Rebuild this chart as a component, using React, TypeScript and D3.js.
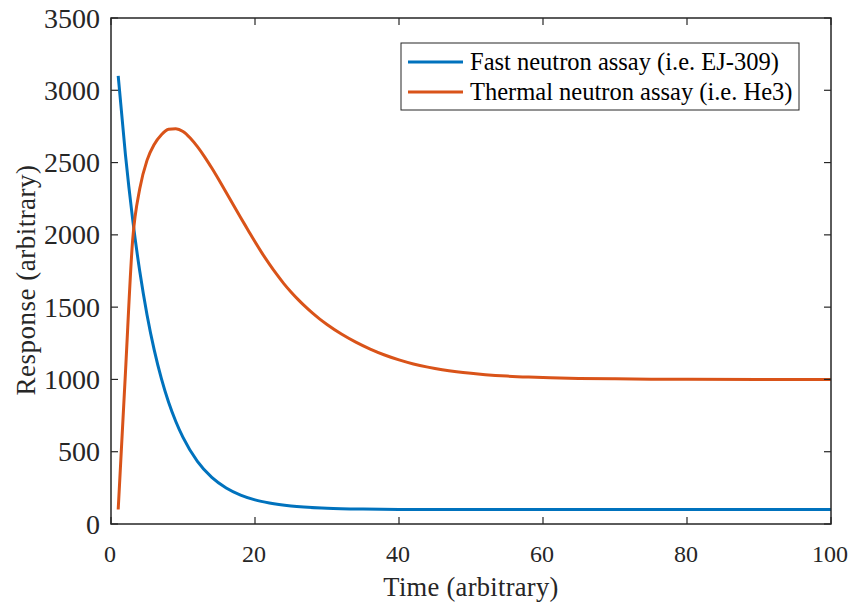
import React from "react";
import * as d3 from "d3";

const fastT = [1, 2, 3, 4, 5, 6, 7, 8, 9, 10, 12, 14, 16, 18, 20, 22, 25, 30, 35, 40, 50, 60, 80, 100];
const fastV = [3100, 2556, 2111, 1746, 1448, 1204, 1005, 842, 709, 599, 433, 322, 249, 200, 167, 145, 124, 109, 103, 101, 100, 100, 100, 100];

const thermalT = [1, 2, 3, 4, 5, 6, 7, 8, 9, 10, 11, 12, 13, 14, 15, 16, 17, 18, 19, 20, 21, 22, 23, 24, 25, 26, 27, 28, 29, 30, 32, 34, 36, 38, 40, 42, 44, 46, 48, 50, 52, 55, 58, 61, 65, 70, 75, 80, 90, 100];
const thermalV = [100, 1040, 1960, 2320, 2515, 2625, 2693, 2730, 2734, 2715, 2670, 2610, 2540, 2462, 2379, 2293, 2206, 2120, 2036, 1952, 1872, 1798, 1728, 1663, 1605, 1552, 1503, 1458, 1417, 1380, 1314, 1258, 1210, 1169, 1135, 1107, 1085, 1067, 1053, 1042, 1033, 1023, 1016, 1011, 1007, 1004, 1002, 1001, 1000, 1000];

const xTicks = [0, 20, 40, 60, 80, 100];
const yTicks = [0, 500, 1000, 1500, 2000, 2500, 3000, 3500];
const seriesNames = ["Fast neutron assay (i.e. EJ-309)", "Thermal neutron assay (i.e. He3)"];
const seriesColors = ["#0072BD", "#D95319"];

const W = 848, H = 608;
const L = 111, R = 831, T = 18, B = 524;
const FONT = "'Liberation Serif', 'Times New Roman', serif";

export default function App() {
  const x = d3.scaleLinear().domain([0, 100]).range([L, R]);
  const y = d3.scaleLinear().domain([0, 3500]).range([B, T]);
  const line = d3.line<[number, number]>().x(d => x(d[0])).y(d => y(d[1])).curve(d3.curveMonotoneX);
  const fast = fastT.map((t, i) => [t, fastV[i]] as [number, number]);
  const thermal = thermalT.map((t, i) => [t, thermalV[i]] as [number, number]);
  const tl = 7;
  const axisColor = "#262626";
  return (
    <svg width={W} height={H} style={{ position: "absolute", left: 0, top: 0, background: "#fff" }}>
      <rect x={0} y={0} width={W} height={H} fill="#fff" />
      <defs>
        <clipPath id="clip"><rect x={L} y={T} width={R - L} height={B - T} /></clipPath>
      </defs>
      <g clipPath="url(#clip)">
        <path d={line(fast) || ""} fill="none" stroke={seriesColors[0]} strokeWidth={3} />
        <path d={line(thermal) || ""} fill="none" stroke={seriesColors[1]} strokeWidth={3} />
      </g>
      {xTicks.map(t => (
        <g key={"x" + t}>
          <line x1={x(t)} x2={x(t)} y1={B} y2={B - tl} stroke={axisColor} strokeWidth={1.2} />
          <line x1={x(t)} x2={x(t)} y1={T} y2={T + tl} stroke={axisColor} strokeWidth={1.2} />
          <text x={x(t) - 1} y={561.5} textAnchor="middle" fontFamily={FONT} fontSize={24} fill={axisColor}>{t}</text>
        </g>
      ))}
      {yTicks.map(t => (
        <g key={"y" + t}>
          <line x1={L} x2={L + tl} y1={y(t)} y2={y(t)} stroke={axisColor} strokeWidth={1.2} />
          <line x1={R} x2={R - tl} y1={y(t)} y2={y(t)} stroke={axisColor} strokeWidth={1.2} />
          <text x={100} y={y(t) + 9.5} textAnchor="end" fontFamily={FONT} fontSize={28} fill={axisColor}>{t}</text>
        </g>
      ))}
      <rect x={L} y={T} width={R - L} height={B - T} fill="none" stroke={axisColor} strokeWidth={1.5} />
      <text x={471} y={596} textAnchor="middle" fontFamily={FONT} fontSize={26.5} letterSpacing={0.3} fill={axisColor}>Time (arbitrary)</text>
      <text transform={`translate(35, 280) rotate(-90)`} textAnchor="middle" fontFamily={FONT} fontSize={27} letterSpacing={0.5} fill={axisColor}>Response (arbitrary)</text>
      <g>
        <rect x={401} y={43} width={398} height={67} fill="#fff" stroke={axisColor} strokeWidth={1} />
        {seriesNames.map((n, i) => (
          <g key={n}>
            <line x1={408} x2={463} y1={62 + i * 30} y2={62 + i * 30} stroke={seriesColors[i]} strokeWidth={3} />
            <text x={470} y={70 + i * 30} fontFamily={FONT} fontSize={24.5} fill="#000">{n}</text>
          </g>
        ))}
      </g>
    </svg>
  );
}
